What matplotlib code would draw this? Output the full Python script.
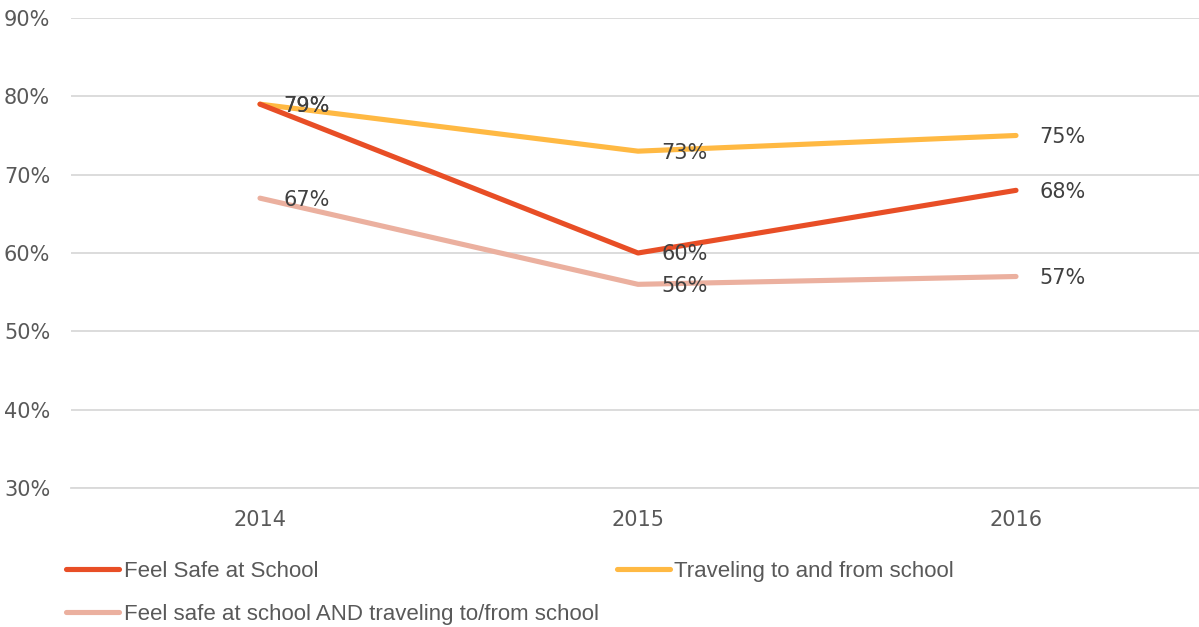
import matplotlib.pyplot as plt
from matplotlib.ticker import PercentFormatter

# data
years = ["2014", "2015", "2016"]
feel_safe_school = [79, 60, 68]
traveling = [79, 73, 75]
both = [67, 56, 57]

series_names = ["Feel Safe at School", "Traveling to and from school",
                "Feel safe at school AND traveling to/from school"]
colors = ["#E84E26", "#FFB943", "#EBB09F"]

plt.rcParams['font.family'] = ['Liberation Sans', 'DejaVu Sans']

fig = plt.figure(figsize=(11.99, 6.27), dpi=100)
ax = fig.add_axes([71 / 1199, 1 - 488 / 627, (1205 - 71) / 1199, 470 / 627])

x = range(len(years))
# draw back to front so the red line sits over the pink one
for vals, name, c, z in [(both, series_names[2], colors[2], 2),
                         (feel_safe_school, series_names[0], colors[0], 4),
                         (traveling, series_names[1], colors[1], 3)]:
    ax.plot(x, vals, color=c, lw=3.7, label=name, zorder=z, solid_capstyle='round')
    for xi, v in zip(x, vals):
        ax.annotate(f"{v}%", (xi, v), xytext=(17, -1), textcoords='offset points',
                    va='center', ha='left', fontsize=15, color='#404040', zorder=5,
                    family='DejaVu Sans')

ax.set_ylim(30, 90)
ax.set_xlim(-0.5, 2.5)
ax.set_yticks(range(30, 91, 10))
ax.yaxis.set_major_formatter(PercentFormatter(decimals=0))
ax.set_xticks(list(x))
ax.set_xticklabels(years)
ax.grid(axis='y', color='#D9D9D9', lw=1.3)
ax.set_axisbelow(True)
for s in ['top', 'right', 'left']:
    ax.spines[s].set_visible(False)
ax.spines['bottom'].set_color('#D9D9D9')
ax.spines['bottom'].set_linewidth(1.3)
ax.tick_params(length=0, colors='#595959', labelsize=15)
ax.tick_params(axis='y', pad=15)
ax.tick_params(axis='x', pad=16)
for lab in ax.get_xticklabels() + ax.get_yticklabels():
    lab.set_family('DejaVu Sans')

h, l = ax.get_legend_handles_labels()
# h is [pink, red, yellow]; legend fills column by column
order = [1, 0, 2]
leg = fig.legend([h[i] for i in order], [l[i] for i in order], ncol=2,
                 loc='upper left', bbox_to_anchor=(46 / 1199, 1 - 541 / 627),
                 frameon=False, fontsize=16, handlelength=2.4, handletextpad=0.2,
                 columnspacing=0.8, labelspacing=1.0, labelcolor='#595959')

fig.savefig("out.png", dpi=100)
